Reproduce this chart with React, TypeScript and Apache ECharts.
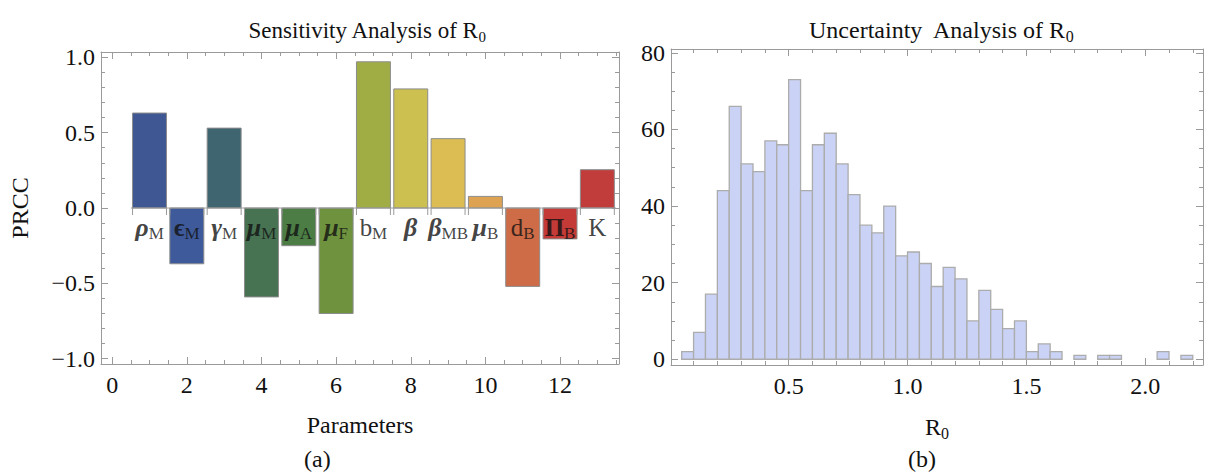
import React, { useEffect, useRef } from "react";
import * as echarts from "echarts";

const SERIF = "'Liberation Serif', 'Times New Roman', 'DejaVu Serif', serif";
const FRAME = "#9a9a9a";

// ---------- Panel (a): PRCC sensitivity ----------
const paramIndex = [1, 2, 3, 4, 5, 6, 7, 8, 9, 10, 11, 12, 13];
const paramSymbol = ["ρ", "ϵ", "γ", "μ", "μ", "μ", "b", "β", "β", "μ", "d", "Π", "K"];
const paramStyle = ["gi", "gb", "gi", "gi", "gi", "gi", "r", "gi", "gi", "gi", "r", "gb", "r"];
const paramSub = ["M", "M", "M", "M", "A", "F", "M", "", "MB", "B", "B", "B", ""];
const prccValues = [0.63, -0.37, 0.53, -0.59, -0.25, -0.7, 0.97, 0.79, 0.46, 0.077, -0.52, -0.205, 0.254];
const barColors = [
  "#3f5893", "#3e5a9a", "#3f6570", "#477352", "#4b7d45", "#6e923e", "#a0ad44",
  "#cbc050", "#dcbd53", "#dea253", "#ce6c47", "#c33a37", "#c13d3b",
];
const xMajorA = [0, 2, 4, 6, 8, 10, 12];
const xMinorA = [0.5, 1, 1.5, 2.5, 3, 3.5, 4.5, 5, 5.5, 6.5, 7, 7.5, 8.5, 9, 9.5, 10.5, 11, 11.5, 12.5, 13, 13.5];
const yMajorA = [-1, -0.5, 0, 0.5, 1];
const yMinorA = [-0.9, -0.8, -0.7, -0.6, -0.4, -0.3, -0.2, -0.1, 0.1, 0.2, 0.3, 0.4, 0.6, 0.7, 0.8, 0.9];

// ---------- Panel (b): R0 histogram ----------
const binStarts = [
  0.05, 0.1, 0.15, 0.2, 0.25, 0.3, 0.35, 0.4, 0.45, 0.5, 0.55, 0.6, 0.65, 0.7, 0.75,
  0.8, 0.85, 0.9, 0.95, 1.0, 1.05, 1.1, 1.15, 1.2, 1.25, 1.3, 1.35, 1.4, 1.45, 1.5,
  1.55, 1.6, 1.65, 1.7, 1.75, 1.8, 1.85, 1.9, 1.95, 2.0, 2.05, 2.1, 2.15,
];
const binCounts = [
  2, 7, 17, 44, 66, 51, 49, 57, 56, 73, 44, 56, 59, 51, 43,
  35, 33, 40, 27, 28, 25, 19, 24, 21, 10, 18, 13, 8, 10, 2,
  4, 2, 0, 1, 0, 1, 1, 0, 0, 0, 2, 0, 1,
];
const binWidth = 0.05;
const xMajorB = [0.5, 1.0, 1.5, 2.0];
const xMinorB = [0.1, 0.2, 0.3, 0.4, 0.6, 0.7, 0.8, 0.9, 1.1, 1.2, 1.3, 1.4, 1.6, 1.7, 1.8, 1.9, 2.1, 2.2];
const yMajorB = [0, 20, 40, 60, 80];
const yMinorB = [5, 10, 15, 25, 30, 35, 45, 50, 55, 65, 70, 75];

const FS = 24;
const tickFont = { fontFamily: SERIF, fontSize: FS, color: "#111" };

function frameAxes(
  dim: "x" | "y",
  gridIndex: number,
  min: number,
  max: number,
  major: number[],
  minor: number[],
  fmt: (v: number) => string,
  extra: any
) {
  const sides = dim === "x" ? ["bottom", "top"] : ["left", "right"];
  const axes: any[] = [];
  sides.forEach((pos, si) => {
    [true, false].forEach((isMajor) => {
      axes.push({
        type: "value",
        gridIndex,
        position: pos,
        min,
        max,
        silent: true,
        axisLine: {
          show: isMajor,
          onZero: false,
          lineStyle: { color: FRAME, width: 1 },
        },
        axisTick: {
          show: true,
          inside: true,
          length: isMajor ? 7 : 4,
          customValues: isMajor ? major : minor,
          lineStyle: { color: FRAME, width: 1 },
        },
        axisLabel: {
          show: isMajor && si === 0,
          customValues: major,
          formatter: fmt,
          ...tickFont,
          margin: dim === "x" ? 9 : 6,
        },
        splitLine: { show: false },
        ...(isMajor && si === 0 ? extra : {}),
      });
    });
  });
  return axes;
}

const fmtSigned = (v: number) => (v < 0 ? "−" : "") + Math.abs(v).toFixed(1);
const fmtInt = (v: number) => String(Math.round(v));
const fmtOne = (v: number) => v.toFixed(1);

const labelRich = {
  gi: { fontFamily: SERIF, fontSize: 26, fontWeight: "bold", fontStyle: "italic", color: "#111", lineHeight: 29 },
  gb: { fontFamily: SERIF, fontSize: 25, fontWeight: "bold", color: "#111", lineHeight: 29 },
  r: { fontFamily: SERIF, fontSize: 25, color: "#111", lineHeight: 29 },
  s: { fontFamily: SERIF, fontSize: 17, color: "#111", verticalAlign: "bottom", lineHeight: 29 },
};

const nameRich = {
  n: { fontFamily: SERIF, fontSize: FS, color: "#111", lineHeight: 28 },
  s: { fontFamily: SERIF, fontSize: 16, color: "#111", verticalAlign: "bottom", lineHeight: 28 },
};
const titleRichA = {
  n: { fontFamily: SERIF, fontSize: 23, color: "#111", lineHeight: 27 },
  s: { fontFamily: SERIF, fontSize: 15, color: "#111", verticalAlign: "bottom", lineHeight: 27 },
};

export default function App() {
  const ref = useRef<HTMLDivElement>(null);

  useEffect(() => {
    if (!ref.current) return;
    const chart = echarts.init(ref.current, null, { renderer: "svg" });

    const xAxesA = frameAxes("x", 0, -0.3, 13.58, xMajorA, xMinorA, fmtInt, {
      name: "Parameters",
      nameLocation: "middle",
      nameGap: 49,
      nameTextStyle: { fontFamily: SERIF, fontSize: FS, color: "#111" },
    });
    const yAxesA = frameAxes("y", 0, -1.035, 1.035, yMajorA, yMinorA, fmtSigned, {
      name: "PRCC",
      nameLocation: "middle",
      nameGap: 69,
      nameRotate: 90,
      nameTextStyle: { fontFamily: SERIF, fontSize: FS, color: "#111" },
    });
    const xAxesB = frameAxes("x", 1, 0.005, 2.243, xMajorB, xMinorB, fmtOne, {
      name: "{n|R}{s|0}",
      nameLocation: "middle",
      nameGap: 48,
      nameTextStyle: { fontFamily: SERIF, fontSize: FS, color: "#111", rich: nameRich },
    });
    const yAxesB = frameAxes("y", 1, -1.5, 81, yMajorB, yMinorB, fmtInt, {});

    const xAxes = [...xAxesA, ...xAxesB];
    const yAxes = [...yAxesA, ...yAxesB];

    chart.setOption({
      animation: false,
      backgroundColor: "#ffffff",
      title: [
        {
          text: "{n|Sensitivity Analysis of R}{s|0}",
          left: 362,
          top: 12,
          textAlign: "center",
          textStyle: { fontFamily: SERIF, fontSize: 23, fontWeight: "normal", color: "#111", rich: titleRichA },
        },
        {
          text: "{n|Uncertainty  Analysis of R}{s|0}",
          left: 936,
          top: 11,
          textAlign: "center",
          textStyle: { fontFamily: SERIF, fontSize: FS, fontWeight: "normal", color: "#111", rich: nameRich },
        },
      ],
      grid: [
        { left: 101, top: 52, width: 518, height: 312 },
        { left: 671, top: 49, width: 532, height: 316 },
      ],
      xAxis: xAxes,
      yAxis: yAxes,
      graphic: [
        { type: "text", left: 304, top: 447, style: { text: "(a)", font: `${FS}px ${SERIF}`, fill: "#111" } },
        { type: "text", left: 908, top: 447, style: { text: "(b)", font: `${FS}px ${SERIF}`, fill: "#111" } },
      ],
      series: [
        {
          type: "custom",
          xAxisIndex: 0,
          yAxisIndex: 0,
          silent: true,
          data: paramIndex.map((x, i) => [x, prccValues[i]]),
          renderItem: (params: any, api: any) => {
            const x = api.value(0);
            const v = api.value(1);
            const half = 0.455;
            const a = api.coord([x - half, v]);
            const b = api.coord([x + half, 0]);
            const l = api.coord([x - 0.5, 0]);
            const r = api.coord([x + 0.5, 0]);
            const children: any[] = [
              {
                type: "rect",
                shape: { x: a[0], y: Math.min(a[1], b[1]), width: b[0] - a[0], height: Math.abs(b[1] - a[1]) },
                style: { fill: barColors[params.dataIndex], stroke: "#8c8c8c", lineWidth: 1 },
              },
              {
                type: "line",
                shape: { x1: l[0], y1: l[1], x2: r[0], y2: r[1] },
                style: { stroke: FRAME, lineWidth: 1 },
              },
              {
                type: "line",
                shape: { x1: a[0], y1: b[1], x2: a[0], y2: b[1] + 7 },
                style: { stroke: FRAME, lineWidth: 1 },
              },
              {
                type: "line",
                shape: { x1: b[0], y1: b[1], x2: b[0], y2: b[1] + 7 },
                style: { stroke: FRAME, lineWidth: 1 },
              },
            ];
            return { type: "group", children };
          },
          z: 2,
        },
        {
          type: "scatter",
          xAxisIndex: 0,
          yAxisIndex: 0,
          silent: true,
          symbolSize: 1,
          itemStyle: { color: "rgba(0,0,0,0)" },
          data: paramIndex.map((x) => [x, 0]),
          label: {
            show: true,
            position: "bottom",
            distance: 4,
            formatter: (p: any) => {
              const i = p.dataIndex;
              const sub = paramSub[i] ? `{s|${paramSub[i]}}` : "";
              return `{${paramStyle[i]}|${paramSymbol[i]}}${sub}`;
            },
            rich: labelRich,
          },
          z: 5,
        },
        {
          type: "custom",
          xAxisIndex: 4,
          yAxisIndex: 4,
          silent: true,
          data: binStarts.map((s, i) => [s, s + binWidth, binCounts[i]]),
          renderItem: (params: any, api: any) => {
            const c = api.value(2);
            if (!c) return null;
            const a = api.coord([api.value(0), c]);
            const b = api.coord([api.value(1), 0]);
            return {
              type: "rect",
              shape: { x: a[0], y: a[1], width: b[0] - a[0], height: b[1] - a[1] },
              style: { fill: "#cad3f5", stroke: "#acacac", lineWidth: 1.3 },
            };
          },
        },
      ],
    });

    return () => chart.dispose();
  }, []);

  return (
    <div
      ref={ref}
      style={{ position: "fixed", left: 0, top: 0, width: 1205, height: 474, background: "#fff" }}
    />
  );
}
